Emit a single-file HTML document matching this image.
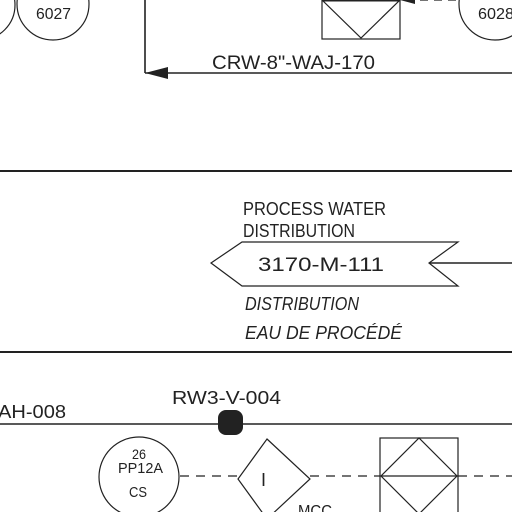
<!DOCTYPE html>
<html><head><style>body{margin:0;background:#fff}svg{display:block}text{font-family:"Liberation Sans",sans-serif;fill:#222}</style></head><body>
<svg width="512" height="512" viewBox="0 0 512 512" xmlns="http://www.w3.org/2000/svg">
<g fill="none" stroke="#222" stroke-width="1.2">
<circle cx="-20" cy="5" r="35"/>
<circle cx="53" cy="4" r="36"/>
<circle cx="495" cy="4" r="36"/>
<rect x="322" y="-2" width="78" height="41"/>
<path d="M322 0 L361 38 L400 0"/>
<line x1="322" y1="0" x2="400" y2="0" stroke-width="3"/>
<path d="M420 0 H460" stroke-dasharray="8 6"/>
<line x1="145" y1="0" x2="145" y2="73" stroke-width="1.6"/>
<line x1="145" y1="73" x2="512" y2="73" stroke-width="1.6"/>
<line x1="0" y1="171" x2="512" y2="171" stroke-width="2"/>
<line x1="0" y1="352" x2="512" y2="352" stroke-width="2"/>
<path d="M211 263 L242 242 H458 L429 263 L458 286 H242 Z"/>
<line x1="430" y1="263" x2="512" y2="263" stroke-width="1.4"/>
<line x1="0" y1="424" x2="512" y2="424" stroke-width="1.4"/>
<circle cx="139" cy="477" r="40"/>
<path d="M180 476 H237" stroke-dasharray="9 7"/>
<path d="M267 439 L310 479 L267 519 L238 479 Z"/>
<path d="M310 476 H380" stroke-dasharray="9 7"/>
<rect x="380" y="438" width="78" height="80"/>
<path d="M381 476 L419 438 L457 476 L419 514 Z"/>
<line x1="380" y1="476" x2="458" y2="476"/>
<path d="M458 476 H512" stroke-dasharray="9 7"/>
</g>
<polygon points="145,73 168,67 168,79" fill="#222"/>
<polygon points="400,0 415,-4 415,4" fill="#222"/>
<rect x="218" y="410" width="25" height="25" rx="8" fill="#222"/>
<g lengthAdjust="spacingAndGlyphs">
<text x="36" y="19" font-size="16" textLength="35" lengthAdjust="spacingAndGlyphs">6027</text>
<text x="478" y="19" font-size="16" textLength="36" lengthAdjust="spacingAndGlyphs">6028</text>
<text x="212" y="69" font-size="19" textLength="163" lengthAdjust="spacingAndGlyphs">CRW-8"-WAJ-170</text>
<text x="243" y="215" font-size="18" textLength="143" lengthAdjust="spacingAndGlyphs">PROCESS WATER</text>
<text x="243" y="237" font-size="18" textLength="112" lengthAdjust="spacingAndGlyphs">DISTRIBUTION</text>
<text x="258" y="271" font-size="19" textLength="126" lengthAdjust="spacingAndGlyphs">3170-M-111</text>
<text x="245" y="310" font-size="18" font-style="italic" textLength="114" lengthAdjust="spacingAndGlyphs">DISTRIBUTION</text>
<text x="245" y="339" font-size="18" font-style="italic" textLength="157" lengthAdjust="spacingAndGlyphs">EAU DE PROCÉDÉ</text>
<text x="-2" y="418" font-size="18" textLength="68" lengthAdjust="spacingAndGlyphs">AH-008</text>
<text x="172" y="404" font-size="18" textLength="109" lengthAdjust="spacingAndGlyphs">RW3-V-004</text>
<text x="132" y="459" font-size="14" textLength="14" lengthAdjust="spacingAndGlyphs">26</text>
<text x="118" y="473" font-size="15" textLength="45" lengthAdjust="spacingAndGlyphs">PP12A</text>
<text x="129" y="497" font-size="15" textLength="18" lengthAdjust="spacingAndGlyphs">CS</text>
</g>
<text x="261" y="486" font-size="18" font-family="Liberation Serif">I</text>
<text x="298" y="516" font-size="16" textLength="34" lengthAdjust="spacingAndGlyphs">MCC</text>
</svg>
</body></html>
